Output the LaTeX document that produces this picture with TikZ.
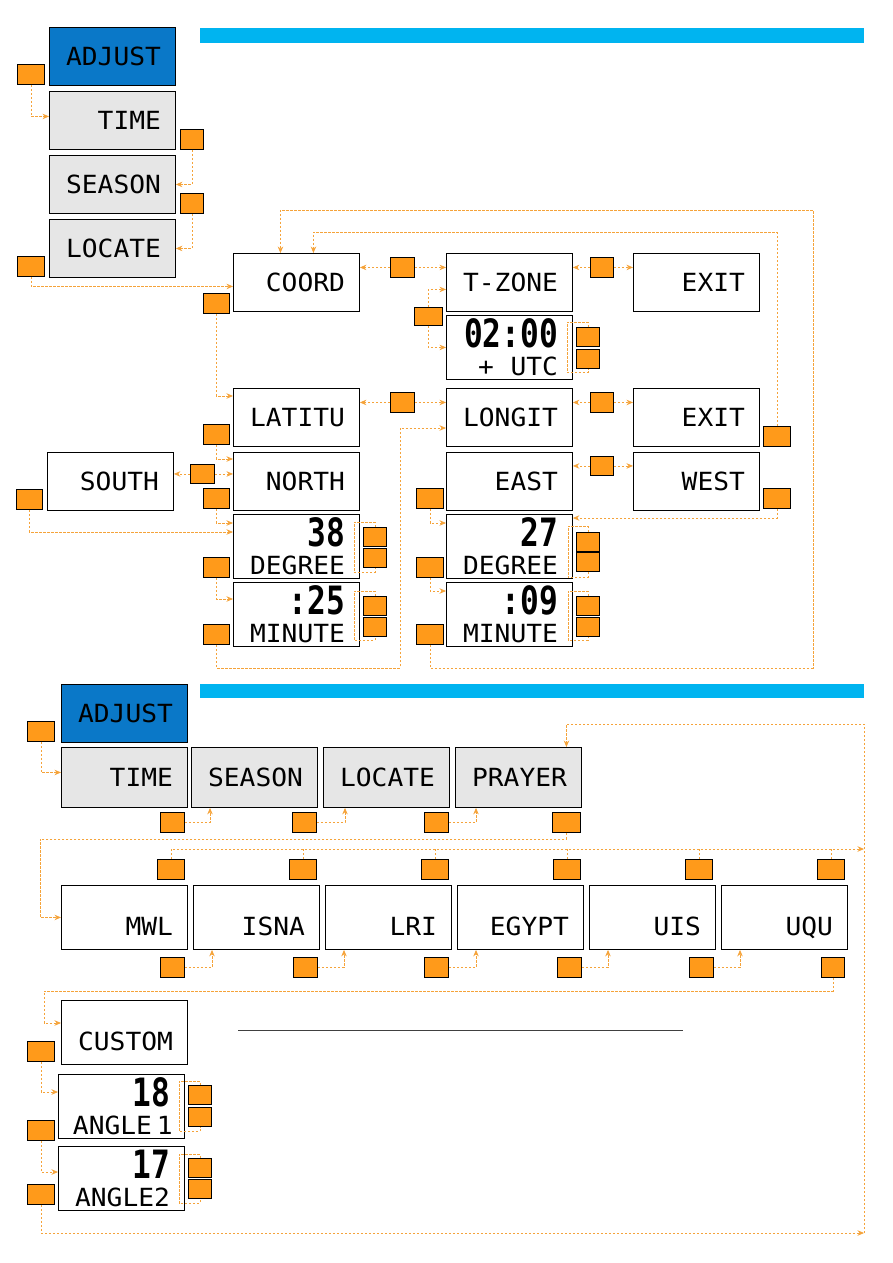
\documentclass[tikz,border=0pt]{standalone}
\usepackage{fontspec}
\usepackage{tikz}
\usetikzlibrary{arrows.meta}
\setmainfont{DejaVu Sans Mono}[FakeStretch=1.05]
\newfontfamily\lcdbigfont{DejaVu Sans Mono}[FakeStretch=0.8]
\newcommand\lcdtext{\fontsize{25}{26}\selectfont}
\newcommand\lcdlow{\fontsize{25}{28}\selectfont}
\newcommand\bigdigits{\lcdbigfont\bfseries\fontsize{39}{28}\selectfont}
\definecolor{lcdblue}{HTML}{0A78C8}
\definecolor{barblue}{HTML}{00B4F0}
\definecolor{lcdgray}{HTML}{E6E6E6}
\definecolor{btnorange}{HTML}{FF9A1A}
\definecolor{linkorange}{HTML}{F5A33A}

\begin{document}
\begin{tikzpicture}[x=1pt,y=-1pt,
  lcd/.style={draw, line width=0.9pt, fill=white, anchor=north west, minimum width=126pt, minimum height=58pt, text width=97pt, align=right, inner xsep=14.5pt, inner ysep=0pt, font=\lcdtext},
  lcdtwo/.style={lcd, minimum height=64pt, font=\lcdlow},
  menu/.style={lcd, fill=lcdgray},
  title/.style={lcd, fill=lcdblue},
  method/.style={lcd, minimum height=64pt, text height=37pt, text depth=0pt},
  btn/.style={draw, line width=0.9pt, fill=btnorange, anchor=north west, minimum width=27pt, minimum height=20pt, inner sep=0pt},
  sbtn/.style={btn, minimum width=23pt, minimum height=19pt},
  link/.style={linkorange, line width=0.8pt, dash pattern=on 2.5pt off 1.5pt, ->, >={Stealth[length=6.5pt,width=5.5pt]}},
  tie/.style={link, -}]
\useasboundingbox (0,0) rectangle (893,1263);

%bandeaux
\fill[barblue] (200,28) rectangle (864,43);
\fill[barblue] (200,684) rectangle (864,698);

%menu ADJUST / LOCATE
\node[title] (adjA) at (49,27) {ADJUST};
\node[menu] (timeA) at (49,91) {TIME};
\node[menu] (seasonA) at (49,155) {SEASON};
\node[menu] (locateA) at (49,219) {LOCATE};

\node[lcd] (coord) at (233,253) {COORD};
\node[lcd] (tzone) at (446,253) {T-ZONE};
\node[lcd] (exitA) at (633,253) {EXIT};
\node[lcdtwo] (zone) at (446,315) {{\bigdigits 02:00}\\+\ \ UTC};

\node[lcd] (latitu) at (233,388) {LATITU};
\node[lcd] (longit) at (446,388) {LONGIT};
\node[lcd] (exitB) at (633,388) {EXIT};
\node[lcd] (nSouth) at (47,452) {SOUTH};
\node[lcd] (nNorth) at (233,452) {NORTH};
\node[lcd] (nEast) at (446,452) {EAST};
\node[lcd] (nWest) at (633,452) {WEST};
\node[lcdtwo] (degLat) at (233,514) {{\bigdigits 38}\\DEGREE};
\node[lcdtwo] (minLat) at (233,582) {{\bigdigits :25}\\MINUTE};
\node[lcdtwo] (degLon) at (446,514) {{\bigdigits 27}\\DEGREE};
\node[lcdtwo] (minLon) at (446,582) {{\bigdigits :09}\\MINUTE};

%boutons
\node[btn] (bA1) at (17,64) {};
\node[btn, minimum width=23pt] (bA2) at (180,129) {};
\node[btn, minimum width=23pt] (bA3) at (180,193) {};
\node[btn] (bA4) at (17,256) {};
\node[btn, minimum width=24pt] (bCT) at (390,257) {};
\node[btn, minimum width=23pt] (bTE) at (590,257) {};
\node[btn, minimum width=28pt, minimum height=18pt] (bTZ) at (414,307) {};
\node[sbtn] (sZ1) at (576,327) {};
\node[sbtn] (sZ2) at (576,349) {};
\node[btn, minimum width=26pt] (bCL) at (203,293) {};
\node[btn, minimum width=24pt] (bLL) at (390,392) {};
\node[btn, minimum width=23pt] (bLE) at (590,392) {};
\node[btn] (bXB) at (763,426) {};
\node[btn, minimum width=26pt] (bLN) at (203,424) {};
\node[btn, minimum width=24pt, minimum height=19pt] (bSN) at (190,464) {};
\node[btn, minimum width=26pt] (bSD) at (16,489) {};
\node[btn, minimum width=26pt] (bND) at (203,488) {};
\node[sbtn] (sDa1) at (363,527) {};
\node[sbtn] (sDa2) at (363,548) {};
\node[btn, minimum width=26pt] (bDM) at (203,557) {};
\node[sbtn] (sMa1) at (363,596) {};
\node[sbtn] (sMa2) at (363,617) {};
\node[btn, minimum width=26pt] (bLX) at (203,624) {};
\node[btn, minimum width=23pt, minimum height=19pt] (bEW) at (590,456) {};
\node[btn] (bED) at (416,488) {};
\node[btn] (bWD) at (763,488) {};
\node[sbtn] (sDb1) at (576,532) {};
\node[sbtn] (sDb2) at (576,552) {};
\node[btn] (bDMo) at (416,557) {};
\node[sbtn] (sMb1) at (576,596) {};
\node[sbtn] (sMb2) at (576,617) {};
\node[btn] (bGX) at (416,624) {};

%liaisons
\draw[link] (bA1.south) |- ([yshift=4pt]timeA.west);
\draw[link] (bA2.south) |- (seasonA.east);
\draw[link] (bA3.south) |- (locateA.east);
\draw[link] (bA4.south) |- ([yshift=-4pt]coord.west);
\draw[link] (bCT.west) -- (bCT.west -| coord.east);
\draw[link] (bCT.east) -- (bCT.east -| tzone.west);
\draw[link] (bTE.west) -- (bTE.west -| tzone.east);
\draw[link] (bTE.east) -- (bTE.east -| exitA.west);
\draw[link] (bTZ.north) |- ([yshift=-7pt]tzone.west);
\draw[link] (bTZ.south) |- (zone.west);
\draw[tie] (sZ1.north) -- ++(0,-5) -| ++(-21,50) -| (sZ2.south);
\draw[link] (bCL.south) |- ([yshift=-8pt]latitu.north west);
\draw[link] (bLL.west) -- (bLL.west -| latitu.east);
\draw[link] (bLL.east) -- (bLL.east -| longit.west);
\draw[link] (bLE.west) -- (bLE.west -| longit.east);
\draw[link] (bLE.east) -- (bLE.east -| exitB.west);
\draw[link] (bXB.north) |- ([xshift=17pt,yshift=21pt]coord.north) -- ([xshift=17pt]coord.north);
\draw[link] (bLN.south) |- ([yshift=-7pt]nNorth.north west);
\draw[link] (bSN.west) -- (bSN.west -| nSouth.east);
\draw[link] (bSN.east) -- (bSN.east -| nNorth.west);
\draw[link] (bSD.south) |- ([yshift=-18pt]degLat.north west);
\draw[link] (bND.south) |- ([yshift=-9pt]degLat.north west);
\draw[tie] (sDa1.north) -- ++(0,-5) -| ++(-21,50) -| (sDa2.south);
\draw[link] (bDM.south) |- ([yshift=-17pt]minLat.north west);
\draw[tie] (sMa1.north) -- ++(0,-5) -| ++(-21,49) -| (sMa2.south);
\draw[link] (bLX.south) -- ++(0,23) -| ([xshift=-46pt,yshift=-40pt]longit.north west) -- ([yshift=-40pt]longit.north west);
\draw[link] (bEW.west) -- (bEW.west -| nEast.east);
\draw[link] (bEW.east) -- (bEW.east -| nWest.west);
\draw[link] (bED.south) |- ([yshift=-9pt]degLon.north west);
\draw[link] (bWD.south) |- ([yshift=-4pt]degLon.north east);
\draw[tie] (sDb1.north) -- ++(0,-6) -| ++(-20,51) -| (sDb2.south);
\draw[link] (bDMo.south) |- ([yshift=-9pt]minLon.north west);
\draw[tie] (sMb1.north) -- ++(0,-5) -| ++(-20,49) -| (sMb2.south);
\draw[link] (bGX.south) -- ++(0,23) -| (813,210) -| ([xshift=-16pt]coord.north);

%menu ADJUST / PRAYER
\node[title] (adjB) at (61,684) {ADJUST};
\node[menu, minimum height=60pt] (timeB) at (61,747) {TIME};
\node[menu, minimum height=60pt] (seasonB) at (191,747) {SEASON};
\node[menu, minimum height=60pt] (locateB) at (323,747) {LOCATE};
\node[menu, minimum height=60pt] (prayer) at (455,747) {PRAYER};

\node[method] (mwl) at (61,885) {MWL};
\node[method] (isna) at (193,885) {ISNA};
\node[method] (lri) at (325,885) {LRI};
\node[method] (egypt) at (457,885) {EGYPT};
\node[method] (uis) at (589,885) {UIS};
\node[method] (uqu) at (721,885) {UQU};
\node[method] (custom) at (61,1000) {CUSTOM};
\node[lcdtwo] (ang1) at (58,1074) {{\bigdigits 18}\\\mbox{ANGLE\kern5pt 1}};
\node[lcdtwo] (ang2) at (58,1146) {{\bigdigits 17}\\ANGLE2};

\node[btn] (bB1) at (27,721) {};
\node[btn, minimum width=24pt] (bTS) at (160,812) {};
\node[btn, minimum width=24pt] (bSL) at (292,812) {};
\node[btn, minimum width=24pt] (bLP) at (424,812) {};
\node[btn, minimum width=28pt] (bPM) at (552,812) {};

\node[btn] (tM1) at (157,859) {};
\node[btn] (tM2) at (289,859) {};
\node[btn] (tM3) at (421,859) {};
\node[btn] (tM4) at (553,859) {};
\node[btn] (tM5) at (685,859) {};
\node[btn] (tM6) at (817,859) {};
\node[btn, minimum width=24pt] (bM1) at (160,957) {};
\node[btn, minimum width=24pt] (bM2) at (293,957) {};
\node[btn, minimum width=24pt] (bM3) at (424,957) {};
\node[btn, minimum width=24pt] (bM4) at (557,957) {};
\node[btn, minimum width=24pt] (bM5) at (689,957) {};
\node[btn, minimum width=23pt] (bM6) at (821,957) {};

\node[btn] (bC1) at (27,1041) {};
\node[sbtn] (sA1) at (188,1085) {};
\node[sbtn] (sA2) at (188,1107) {};
\node[btn] (bC2) at (27,1120) {};
\node[sbtn] (sB1) at (188,1158) {};
\node[sbtn] (sB2) at (188,1179) {};
\node[btn] (bC3) at (27,1184) {};

\coordinate (rBot) at (864,1233);
\coordinate (rMid) at (864,849);

\draw[link] (bB1.south) |- ([yshift=5pt]timeB.west);
\draw[link] (bTS.east) -| ([xshift=19pt]seasonB.south west);
\draw[link] (bSL.east) -| ([xshift=22pt]locateB.south west);
\draw[link] (bLP.east) -| ([xshift=21pt]prayer.south west);
\draw[link] (bPM.south) -- ++(0,6) -| ([xshift=-21pt]mwl.west) -- (mwl.west);
\draw[link] (rBot) |- ([xshift=48pt,yshift=23pt]prayer.north) -- ([xshift=48pt]prayer.north);
\draw[link] (tM1.north) |- (rMid);
\draw[tie] (tM2.north) -- ++(0,-10);
\draw[tie] (tM3.north) -- ++(0,-10);
\draw[tie] (tM4.north) -- ++(0,-10);
\draw[tie] (tM5.north) -- ++(0,-10);
\draw[tie] (tM6.north) -- ++(0,-10);
\draw[link] (bM1.east) -| ([xshift=19pt]isna.south west);
\draw[link] (bM2.east) -| ([xshift=19pt]lri.south west);
\draw[link] (bM3.east) -| ([xshift=19pt]egypt.south west);
\draw[link] (bM4.east) -| ([xshift=19pt]uis.south west);
\draw[link] (bM5.east) -| ([xshift=19pt]uqu.south west);
\draw[link] (bM6.south) -- ++(0,13) -| ([xshift=-17pt,yshift=-23pt]custom.north west) -- ([yshift=-23pt]custom.north west);
\draw[link] (bC1.south) |- ([yshift=-18pt]ang1.north west);
\draw[tie] (sA1.north) -- ++(0,-4) -| ++(-21,50) -| (sA2.south);
\draw[link] (bC2.south) |- ([yshift=-26pt]ang2.north west);
\draw[tie] (sB1.north) -- ++(0,-4) -| ++(-21,49) -| (sB2.south);
\draw[link] (bC3.south) |- (rBot);

%trait
\draw[black!75, line width=0.8pt] (238,1030) -- (683,1030);
\end{tikzpicture}
\end{document}
